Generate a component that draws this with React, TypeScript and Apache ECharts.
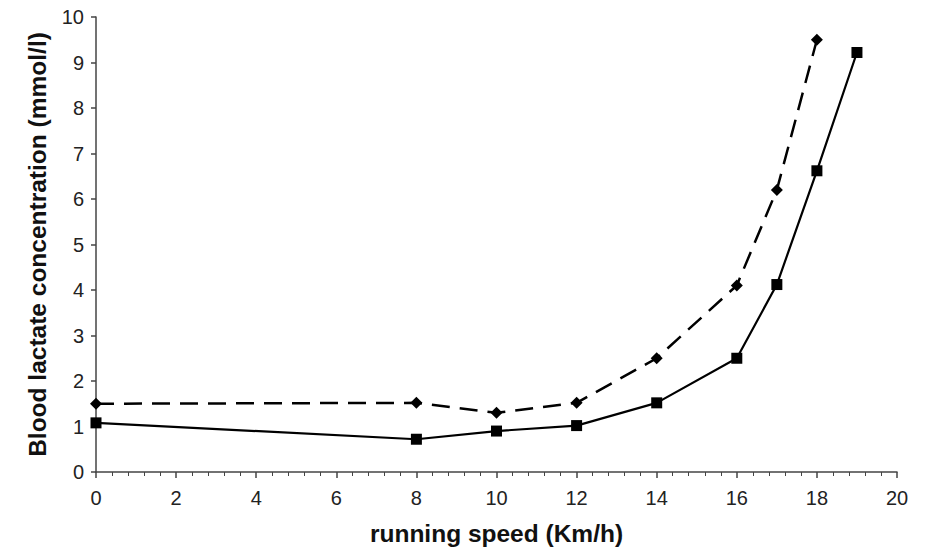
import React, { useEffect, useRef } from "react";
import * as echarts from "echarts";

const dashedX = [0, 8, 10, 12, 14, 16, 17, 18];
const dashedY = [1.5, 1.52, 1.3, 1.52, 2.5, 4.1, 6.2, 9.5];
const solidX = [0, 8, 10, 12, 14, 16, 17, 18, 19];
const solidY = [1.08, 0.72, 0.9, 1.02, 1.52, 2.5, 4.12, 6.62, 9.22];

const xTitle = "running speed (Km/h)";
const yTitle = "Blood lactate concentration (mmol/l)";

export default function App() {
  const ref = useRef<HTMLDivElement>(null);
  useEffect(() => {
    if (!ref.current) return;
    const chart = echarts.init(ref.current, null, { renderer: "svg" });
    const font = "'Liberation Sans', Arial, sans-serif";
    chart.setOption({
      animation: false,
      backgroundColor: "#fff",
      grid: { left: 96, right: 33, top: 17, bottom: 76 },
      xAxis: {
        type: "value",
        min: 0,
        max: 20,
        interval: 2,
        name: xTitle,
        nameLocation: "middle",
        nameGap: 49,
        nameTextStyle: { fontFamily: font, fontSize: 24.5, fontWeight: "bold", color: "#111" },
        axisLine: { show: true, onZero: false, lineStyle: { color: "#444", width: 1.5 } },
        axisTick: { show: true, length: 6, lineStyle: { color: "#444", width: 1.5 } },
        minorTick: { show: true, splitNumber: 5, length: 4, lineStyle: { color: "#444", width: 1 } },
        axisLabel: { fontFamily: font, fontSize: 20, color: "#222", margin: 16 },
        splitLine: { show: false },
      },
      yAxis: {
        type: "value",
        min: 0,
        max: 10,
        interval: 1,
        name: yTitle,
        nameLocation: "middle",
        nameGap: 46,
        nameTextStyle: { fontFamily: font, fontSize: 24.5, fontWeight: "bold", color: "#111" },
        axisLine: { show: true, lineStyle: { color: "#444", width: 1.5 } },
        axisTick: { show: true, length: 5, lineStyle: { color: "#444", width: 1.5 } },
        axisLabel: { fontFamily: font, fontSize: 20, color: "#222", margin: 12 },
        splitLine: { show: false },
      },
      series: [
        {
          type: "line",
          data: dashedX.map((x, i) => [x, dashedY[i]]),
          symbol: "diamond",
          symbolSize: 12,
          itemStyle: { color: "#000" },
          lineStyle: { color: "#000", width: 2.5, type: [18, 10] },
        },
        {
          type: "line",
          data: solidX.map((x, i) => [x, solidY[i]]),
          symbol: "rect",
          symbolSize: 11,
          itemStyle: { color: "#000" },
          lineStyle: { color: "#000", width: 2.2 },
        },
      ],
    });
    return () => chart.dispose();
  }, []);
  return (
    <div
      ref={ref}
      style={{ position: "fixed", left: 0, top: 0, width: 930, height: 551 }}
    />
  );
}
